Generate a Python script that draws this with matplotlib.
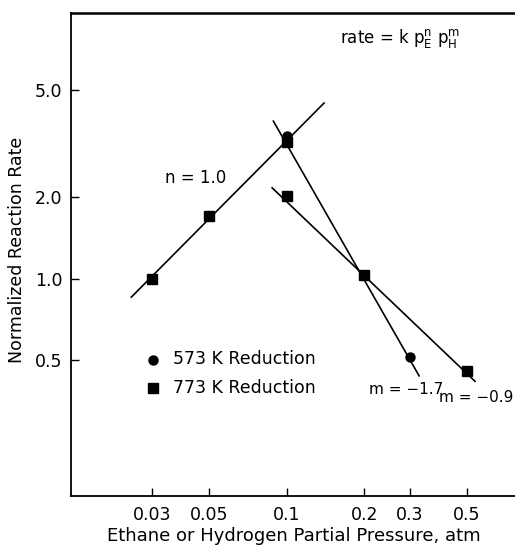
import matplotlib
matplotlib.use("Agg")
import matplotlib.pyplot as plt
from matplotlib.lines import Line2D
from matplotlib.ticker import FixedLocator, NullLocator

# ---- data ----
p_573 = [0.1, 0.2, 0.3]
r_573 = [3.37, 1.03, 0.515]
p_773 = [0.03, 0.05, 0.1, 0.1, 0.2, 0.5]
r_773 = [1.0, 1.71, 3.2, 2.03, 1.035, 0.454]

# fitted lines (end points)
n_line_x = [0.025, 0.1396]
n_line_y = [0.855, 4.47]
m17_line_x = [0.0888, 0.326]
m17_line_y = [3.83, 0.437]
m09_line_x = [0.0878, 0.537]
m09_line_y = [2.17, 0.417]

xticks = [0.03, 0.05, 0.1, 0.2, 0.3, 0.5]
xticklabels = ["0.03", "0.05", "0.1", "0.2", "0.3", "0.5"]
yticks = [0.5, 1.0, 2.0, 5.0]
yticklabels = ["0.5", "1.0", "2.0", "5.0"]

W, H = 515, 547
fig = plt.figure(figsize=(W / 100, H / 100), dpi=100)
ax = fig.add_axes([71 / W, 51 / H, (520 - 71) / W, (496 - 13.3) / H])
ax.set_xscale("log")
ax.set_yscale("log")
ax.set_xlim(0.01459, 0.802)
ax.set_ylim(0.157, 9.6)

lw = 1.2
ax.plot(n_line_x, n_line_y, color="black", lw=lw)
ax.plot(m17_line_x, m17_line_y, color="black", lw=lw)
ax.plot(m09_line_x, m09_line_y, color="black", lw=lw)

ax.plot(p_573, r_573, linestyle="none", marker="o", ms=6.5, color="black")
ax.plot(p_773, r_773, linestyle="none", marker="s", ms=7.2, color="black")

ax.xaxis.set_major_locator(FixedLocator(xticks))
ax.xaxis.set_minor_locator(NullLocator())
ax.set_xticklabels(xticklabels)
ax.yaxis.set_major_locator(FixedLocator(yticks))
ax.yaxis.set_minor_locator(NullLocator())
ax.set_yticklabels(yticklabels)

ax.tick_params(axis="both", which="major", direction="in", length=6,
               width=1.0, labelsize=12.5, color="black")
ax.tick_params(axis="x", pad=7)
ax.tick_params(axis="y", pad=6)

for side in ["left", "bottom"]:
    ax.spines[side].set_linewidth(1.3)
ax.spines["top"].set_linewidth(1.8)
ax.spines["right"].set_visible(False)

def px(x, y):
    return fig.transFigure.inverted().transform((x, H - y))

fig.text(*px(294, 536), "Ethane or Hydrogen Partial Pressure, atm",
         fontsize=13, ha="center", va="center")
fig.text(*px(17, 250), "Normalized Reaction Rate", fontsize=12.5,
         ha="center", va="center", rotation=90)

fig.text(*px(165, 178), "n = 1.0", fontsize=12, va="center", ha="left")
fig.text(*px(369, 389), "m = \u22121.7", fontsize=11, va="center", ha="left")
fig.text(*px(513, 398), "m = \u22120.9", fontsize=11, va="center", ha="right")
fig.text(*px(340, 38), r"rate = k p$_\mathrm{E}^\mathrm{n}$ p$_\mathrm{H}^\mathrm{m}$",
         fontsize=12, va="center", ha="left")

# legend
lx, ly1, ly2 = 152.7, 359.5, 388
fig.lines.append(Line2D(*zip(px(lx, ly1)), marker="o", ms=6.5,
                        color="black", transform=fig.transFigure))
fig.lines.append(Line2D(*zip(px(lx, ly2)), marker="s", ms=7.2,
                        color="black", transform=fig.transFigure))
fig.text(*px(173, ly1), "573 K Reduction", fontsize=12.5, va="center")
fig.text(*px(173, ly2), "773 K Reduction", fontsize=12.5, va="center")

fig.savefig("out.png", dpi=100)
